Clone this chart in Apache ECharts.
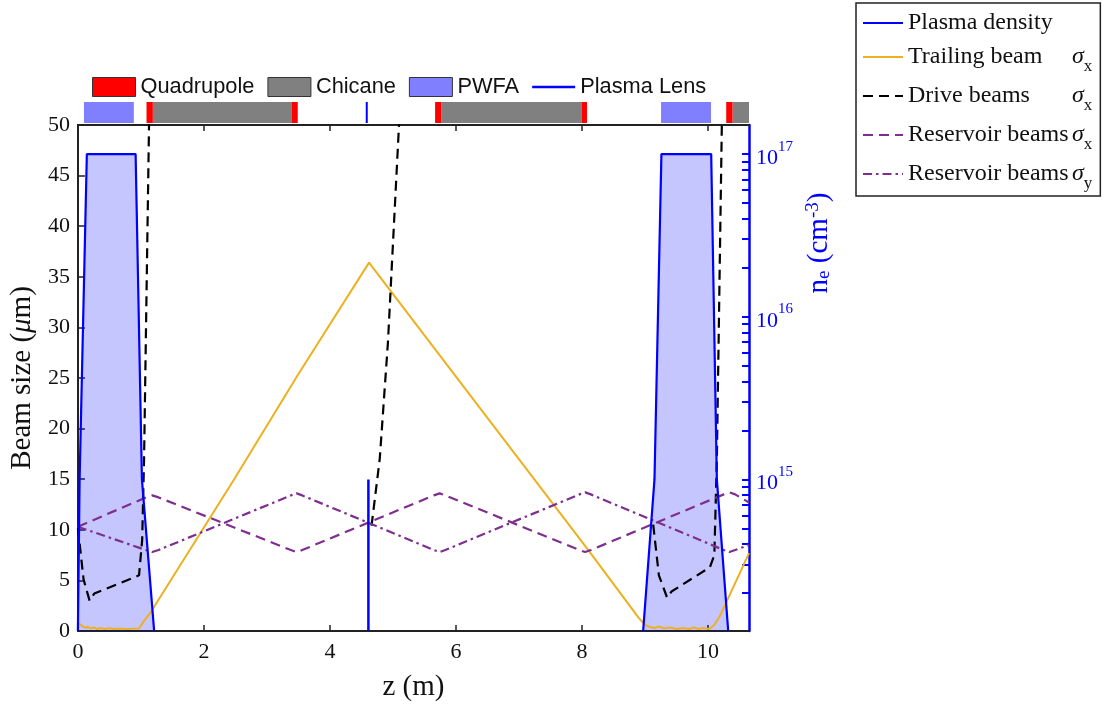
<!DOCTYPE html>
<html>
<head>
<meta charset="utf-8">
<script src="https://cdn.jsdelivr.net/npm/echarts@6/dist/echarts.min.js"></script>
<style>html,body{margin:0;padding:0;background:#fff}#c{width:1110px;height:707px}</style>
</head>
<body>
<div id="c"></div>
<script>
// ---------- data ----------
const zTicks = [0, 2, 4, 6, 8, 10];
const beamTicks = [0, 5, 10, 15, 20, 25, 30, 35, 40, 45, 50];
const densityDecades = [1e15, 1e16, 1e17];
const densityMinor = [2e14,3e14,4e14,5e14,6e14,7e14,8e14,9e14,
                      2e15,3e15,4e15,5e15,6e15,7e15,8e15,9e15,
                      2e16,3e16,4e16,5e16,6e16,7e16,8e16,9e16];
const densityRange = [1.17e14, 1.51e17];
const zRange = [0, 10.65];

// plasma density (cm^-3) along z (m)
const densityStage1 = [[0,1.17e14],[0.027,1e15],[0.142,1e17],[0.916,1e17],[1.016,1e15],[1.21,1.17e14]];
const densityLens   = [[4.61,1.17e14],[4.61,1e15]];
const densityStage2 = [[8.97,1.17e14],[9.15,1e15],[9.26,1e17],[10.05,1e17],[10.14,1e15],[10.32,1.17e14]];

// trailing beam sigma_x (um)
const trailingBeam = [[0,0.3],[0.02,0.7],[0.05,0.75],[0.08,0.45],[0.12,0.3],[0.16,0.42],[0.2,0.25],[0.25,0.35],
  [0.3,0.2],[0.36,0.3],[0.42,0.2],[0.5,0.28],[0.58,0.2],[0.66,0.25],[0.75,0.2],[0.85,0.22],[0.97,0.25],
  [1.05,1.0],[1.16,1.9],[2.48,15],[3.48,25.2],[4.62,36.4],[8.1,8.0],[8.9,1.3],[9.0,0.6],[9.08,0.4],
  [9.15,0.3],[9.22,0.45],[9.3,0.25],[9.4,0.35],[9.5,0.2],[9.6,0.3],[9.7,0.2],[9.78,0.35],[9.85,0.2],
  [9.92,0.3],[10.02,0.2],[10.1,0.6],[10.19,1.5],[10.65,7.7]];

// drive beams sigma_x (um)
const driveBeam1 = [[0,10.2],[0.09,5.1],[0.185,3.0],[0.26,3.7],[0.97,5.5],[1.02,9],[1.05,17],[1.13,50.5]];
const driveBeam2 = [[4.66,10.4],[4.79,17],[4.92,28.5],[5.0,38.3],[5.1,50.5]];
const driveBeam3 = [[9.13,10.5],[9.22,5.5],[9.35,3.3],[9.42,3.9],[10.03,6.3],[10.1,7.5],[10.14,17],[10.22,50.5]];

// reservoir beams (um)
const reservoirX = [[0,10.3],[1.08,13.2],[1.18,13.4],[1.28,13.2],[3.38,8.0],[3.47,7.8],[3.56,8.0],
  [5.65,13.4],[5.74,13.6],[5.83,13.4],[7.96,8.0],[8.05,7.8],[8.14,8.0],[10.25,13.5],[10.34,13.7],[10.43,13.5],[10.65,12.7]];
const reservoirY = [[0,10.3],[1.08,8.0],[1.18,7.8],[1.28,8.0],[3.38,13.4],[3.47,13.6],[3.56,13.4],
  [5.65,8.0],[5.74,7.8],[5.83,8.0],[7.96,13.5],[8.05,13.7],[8.14,13.5],[10.25,8.0],[10.34,7.8],[10.43,8.0],[10.65,8.5]];

// lattice elements [start z, end z]
const quadrupoles = [[1.13,1.23],[3.42,3.52],[5.69,5.79],[8.01,8.09],[10.29,10.39]];
const chicanes    = [[1.23,3.42],[5.79,8.01],[10.39,10.65]];
const pwfaStages  = [[0.142,0.93],[9.26,10.05]];
const plasmaLenses = [[4.61,4.61]];

// ---------- chart ----------
const SERIF = 'Liberation Serif';
const SANS = 'Liberation Sans';
const lg = v => Math.log10(v);
const toLog = arr => arr.map(p => [p[0], lg(p[1])]);

function rectItem(params, api) {
  const p0 = api.coord([api.value(0), 0]);
  const p1 = api.coord([api.value(1), 1]);
  return { type: 'rect', shape: { x: p0[0], y: p1[1], width: p1[0] - p0[0], height: p0[1] - p1[1] },
           style: { fill: api.visual('color') } };
}
function lensItem(params, api) {
  const p0 = api.coord([api.value(0), 0]);
  const p1 = api.coord([api.value(0), 1]);
  return { type: 'line', shape: { x1: p0[0], y1: p0[1], x2: p1[0], y2: p1[1] },
           style: { stroke: api.visual('color'), lineWidth: 2 } };
}

const chart = echarts.init(document.getElementById('c'), null, { renderer: 'canvas' });

const lineBase = { type: 'line', symbol: 'none', showSymbol: false, xAxisIndex: 0, yAxisIndex: 0, animation: false };

const option = {
  animation: false,
  backgroundColor: '#fff',
  grid: [
    { left: 75, right: 361, top: 125, bottom: 75, containLabel: false },
    { left: 75, right: 361, top: 102, height: 21, containLabel: false }
  ],
  legend: [
    {
      left: 92, top: 76, orient: 'horizontal', itemWidth: 43, itemHeight: 19, itemGap: 13,
      selectedMode: false, padding: 0,
      textStyle: { fontFamily: SANS, fontSize: 21.8, color: '#111' },
      itemStyle: { borderColor: '#333', borderWidth: 1 },
      data: [
        { name: 'Quadrupole', icon: 'rect' },
        { name: 'Chicane', icon: 'rect' },
        { name: 'PWFA', icon: 'rect' },
        { name: 'Plasma Lens', icon: 'path://M0,0H44V2.5H0Z', itemStyle: { borderWidth: 0 } }
      ]
    },
    {
      left: 856, top: 3, orient: 'vertical', itemWidth: 40, itemHeight: 14, itemGap: 3,
      selectedMode: false, padding: [7, 8, 4, 6],
      borderColor: '#222', borderWidth: 1.5, backgroundColor: '#fff',
      itemStyle: { opacity: 0 },
      data: ['Plasma density', 'Trailing beam σx', 'Drive beams σx', 'Reservoir beams σx', 'Reservoir beams σy'],
      formatter: name => {
        const m = name.match(/^(.*) σ(.)$/);
        if (!m) return '{p|' + name + '}';
        return '{n|' + m[1] + '}{g|σ}{sub|' + m[2] + '}';
      },
      textStyle: {
        fontFamily: SERIF, fontSize: 24, color: '#111', lineHeight: 36,
        rich: {
          p: { fontFamily: SERIF, fontSize: 24, lineHeight: 26, height: 26, color: '#111' },
          n: { fontFamily: SERIF, fontSize: 24, width: 164, height: 36, verticalAlign: 'middle', color: '#111' },
          g: { fontFamily: SERIF, fontSize: 24, fontStyle: 'italic', verticalAlign: 'middle', color: '#111' },
          sub: { fontFamily: SERIF, fontSize: 17, lineHeight: 12, verticalAlign: 'bottom', color: '#111' }
        }
      }
    }
  ],
  xAxis: [
    {
      type: 'value', gridIndex: 0, position: 'bottom', min: zRange[0], max: zRange[1],
      name: 'z (m)', nameLocation: 'middle', nameGap: 42,
      nameTextStyle: { fontFamily: SERIF, fontSize: 29, color: '#111' },
      axisLine: { show: true, onZero: false, lineStyle: { color: '#222', width: 2 } },
      axisTick: { show: true, inside: true, length: 6, customValues: zTicks, lineStyle: { color: '#222', width: 1.5 } },
      axisLabel: { show: true, customValues: zTicks, margin: 10, fontFamily: SERIF, fontSize: 22, color: '#111' },
      splitLine: { show: false }
    },
    {
      type: 'value', gridIndex: 0, position: 'top', min: zRange[0], max: zRange[1],
      axisLine: { show: true, onZero: false, lineStyle: { color: '#222', width: 2 } },
      axisTick: { show: true, inside: true, length: 6, customValues: zTicks, lineStyle: { color: '#222', width: 1.5 } },
      axisLabel: { show: false },
      splitLine: { show: false }
    },
    {
      type: 'value', gridIndex: 1, min: zRange[0], max: zRange[1], show: false
    }
  ],
  yAxis: [
    {
      type: 'value', gridIndex: 0, position: 'left', min: 0, max: 50, interval: 5,
      name: '{a|Beam size (}{i|μ}{a|m)}', nameLocation: 'middle', nameGap: 29, nameRotate: 90,
      nameTextStyle: { rich: {
        a: { fontFamily: SERIF, fontSize: 29, color: '#111' },
        i: { fontFamily: SERIF, fontSize: 29, fontStyle: 'italic', color: '#111' } } },
      axisLine: { show: true, onZero: false, lineStyle: { color: '#222', width: 2 } },
      axisTick: { show: true, inside: true, length: 7, customValues: beamTicks, lineStyle: { color: '#222', width: 1.5 } },
      axisLabel: { show: true, customValues: beamTicks, margin: 8, fontFamily: SERIF, fontSize: 22, color: '#111' },
      splitLine: { show: false }
    },
    {
      type: 'value', gridIndex: 0, position: 'right', min: lg(densityRange[0]), max: lg(densityRange[1]),
      name: '{a|n}{s|e}{a| (cm}{p|-3}{a|)}', nameLocation: 'middle', nameGap: 27, nameRotate: 90,
      nameTextStyle: { padding: [0, 0, 0, 270], rich: {
        a: { fontFamily: SERIF, fontSize: 29, lineHeight: 30, color: '#0000ff', verticalAlign: 'middle' },
        s: { fontFamily: SERIF, fontSize: 19, lineHeight: 14, color: '#0000ff', verticalAlign: 'bottom' },
        p: { fontFamily: SERIF, fontSize: 19, lineHeight: 14, color: '#0000ff', verticalAlign: 'top' } } },
      axisLine: { show: true, onZero: false, lineStyle: { color: '#0000ff', width: 2.5 } },
      axisTick: { show: true, inside: true, length: 7,
                  customValues: densityDecades.concat(densityMinor).map(lg), lineStyle: { color: '#0000ff', width: 2 } },
      axisLabel: {
        show: true, customValues: densityDecades.map(lg), margin: 7,
        formatter: v => '{b|10}{e|' + Math.round(v) + '}',
        rich: {
          b: { fontFamily: SERIF, fontSize: 22, lineHeight: 30, color: '#0000ff', verticalAlign: 'bottom' },
          e: { fontFamily: SERIF, fontSize: 15, lineHeight: 15, color: '#0000ff', verticalAlign: 'top' }
        }
      },
      splitLine: { show: false }
    },
    { type: 'value', gridIndex: 1, min: 0, max: 1, show: false }
  ],
  series: [
    { type: 'custom', name: 'PWFA', xAxisIndex: 2, yAxisIndex: 2, renderItem: rectItem, data: pwfaStages,
      itemStyle: { color: '#8080ff' }, encode: { x: [0, 1] } },
    { type: 'custom', name: 'Chicane', xAxisIndex: 2, yAxisIndex: 2, renderItem: rectItem, data: chicanes,
      itemStyle: { color: '#808080' }, encode: { x: [0, 1] }, clip: true },
    { type: 'custom', name: 'Quadrupole', xAxisIndex: 2, yAxisIndex: 2, renderItem: rectItem, data: quadrupoles,
      itemStyle: { color: '#ff0000' }, encode: { x: [0, 1] } },
    { type: 'custom', name: 'Plasma Lens', xAxisIndex: 2, yAxisIndex: 2, renderItem: lensItem, data: plasmaLenses,
      itemStyle: { color: '#0000ff' }, encode: { x: [0, 1] } },

    Object.assign({}, lineBase, { name: 'Trailing beam σx', data: trailingBeam, lineStyle: { color: '#EDB120', width: 2 }, itemStyle: { color: '#EDB120' } }),
    Object.assign({}, lineBase, { name: 'Drive beams σx', data: driveBeam1, lineStyle: { color: '#000', width: 2.2, type: [10, 6] }, itemStyle: { color: '#000' } }),
    Object.assign({}, lineBase, { name: 'Drive beams σx', data: driveBeam2, lineStyle: { color: '#000', width: 2.2, type: [10, 6] }, itemStyle: { color: '#000' } }),
    Object.assign({}, lineBase, { name: 'Drive beams σx', data: driveBeam3, lineStyle: { color: '#000', width: 2.2, type: [10, 6] }, itemStyle: { color: '#000' } }),
    Object.assign({}, lineBase, { name: 'Reservoir beams σx', data: reservoirX, lineStyle: { color: '#7E2F8E', width: 2.2, type: [10, 6] }, itemStyle: { color: '#7E2F8E' } }),
    Object.assign({}, lineBase, { name: 'Reservoir beams σy', data: reservoirY, lineStyle: { color: '#7E2F8E', width: 2.2, type: [9, 4, 2.5, 4] }, itemStyle: { color: '#7E2F8E' } }),

    Object.assign({}, lineBase, { name: 'Plasma density', yAxisIndex: 1, data: toLog(densityStage1),
      lineStyle: { color: '#0000ff', width: 2.2 }, itemStyle: { color: '#0000ff' },
      areaStyle: { color: 'rgba(0,0,255,0.32)', origin: 'start' } }),
    Object.assign({}, lineBase, { name: 'Plasma density', yAxisIndex: 1, data: toLog(densityLens),
      lineStyle: { color: '#0000ff', width: 2.5 }, itemStyle: { color: '#0000ff' } }),
    Object.assign({}, lineBase, { name: 'Plasma density', yAxisIndex: 1, data: toLog(densityStage2),
      lineStyle: { color: '#0000ff', width: 2.2 }, itemStyle: { color: '#0000ff' },
      areaStyle: { color: 'rgba(0,0,255,0.32)', origin: 'start' } })
  ]
};
chart.setOption(option);
</script>
</body>
</html>
